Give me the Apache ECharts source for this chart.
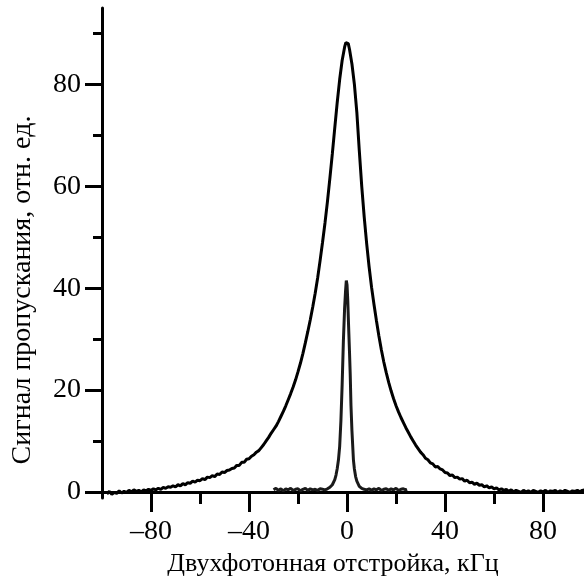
<!DOCTYPE html>
<html>
<head>
<meta charset="utf-8">
<script src="https://cdn.jsdelivr.net/npm/echarts@6/dist/echarts.min.js"></script>
<style>
html,body{margin:0;padding:0;background:#fff;}
#chart{width:584px;height:577px;}
</style>
</head>
<body>
<div id="chart"></div>
<script>
// Broad transmission resonance: detuning (kHz) and signal (arb. units)
var broadX = [
 -98,-97,-96,-95,-94,-93,-92,-91,-90,-89,-88,-87,-86,-85,-84,-83,-82,-81,-80,-79,
 -78,-77,-76,-75,-74,-73,-72,-71,-70,-69,-68,-67,-66,-65,-64,-63,-62,-61,-60,-59,
 -58,-57,-56,-55,-54,-53,-52,-51,-50,-49,-48,-47,-46,-45,-44,-43,-42,-41,-40,-39,
 -38,-37,-36,-35,-34,-33,-32,-31,-30,-29,-28,-27,-26,-25,-24,-23,-22,-21,-20,-19,
 -18,-17,-16,-15,-14,-13,-12,-11,-10,-9,-8,-7,-6,-5,-4,-3,-2,-1,-0.5,0,
 0.5,1,2,3,4,5,6,7,8,9,10,11,12,13,14,15,16,17,18,19,
 20,21,22,23,24,25,26,27,28,29,30,31,32,33,34,35,36,37,38,39,
 40,41,42,43,44,45,46,47,48,49,50,51,52,53,54,55,56,57,58,59,
 60,61,62,63,64,65,66,67,68,69,70,71,72,73,74,75,76,77,78,79,
 80,81,82,83,84,85,86,87,88,89,90,91,92,93,94,95,96,97
];
var broadY = [
 -0.4,0.1,-0.5,-0.1,-0.3,0.2,-0.2,0.1,-0.1,0.3,0.0,0.4,0.1,0.3,0.0,0.4,0.2,0.5,0.3,0.6,
 0.4,0.7,0.5,0.9,0.7,1.0,0.9,1.2,1.0,1.4,1.2,1.6,1.4,1.8,1.7,2.1,1.9,2.3,2.2,2.6,
 2.4,2.9,2.8,3.2,3.0,3.5,3.4,3.9,3.8,4.2,4.3,4.6,4.7,5.2,5.2,5.8,5.8,6.4,6.5,7.0,
 7.3,7.8,8.1,8.7,9.3,10.0,10.7,11.5,12.2,12.9,13.8,14.8,15.8,16.9,18.1,19.3,20.6,22.0,23.6,25.3,
 27.2,29.3,31.5,33.8,36.3,39.0,42.0,45.4,49.0,52.8,57.0,61.6,66.4,71.5,76.5,81.0,84.7,87.3,88.2,88.5,
 88.0,86.9,84.0,80.0,74.5,67.0,60.0,54.0,48.8,44.2,40.2,36.8,33.6,30.6,27.9,25.5,23.4,21.5,19.8,18.3,
 16.9,15.7,14.6,13.6,12.6,11.7,10.8,10.0,9.2,8.5,7.8,7.3,6.6,6.3,5.7,5.5,4.9,5.0,4.5,4.3,
 3.8,3.7,3.2,3.3,2.8,2.9,2.5,2.6,2.1,2.3,1.8,1.9,1.5,1.7,1.3,1.4,1.0,1.2,0.8,1.0,
 0.6,0.8,0.4,0.6,0.3,0.5,0.1,0.4,0.0,0.3,0.1,-0.1,0.3,0.0,0.2,-0.1,0.3,0.1,-0.1,0.2,
 0.0,0.3,-0.1,0.2,0.1,0.3,-0.1,0.2,0.0,0.3,0.1,-0.1,0.2,0.1,0.3,0.0,0.3,0.4
];
// Narrow resonance
var narrowX = [
 -30,-29,-28,-27,-26,-25,-24,-23,-22,-21,-20,-19,-18,-17,-16,-15,-14,-13,-12,-11,
 -10,-9,-8,-7,-6,-5,-4.5,-4,-3.5,-3,-2.5,-2,-1.5,-1,-0.6,-0.3,0,0.3,0.6,1,
 1.3,1.6,2,2.6,3,3.5,4,5,6,7,8,9,10,11,12,13,14,15,16,17,
 18,19,20,21,22,23,24,24.5
];
var narrowY = [
 0.4,0.7,0.3,0.6,0.2,0.6,0.4,0.7,0.3,0.5,0.6,0.2,0.5,0.7,0.3,0.6,0.4,0.5,0.3,0.6,
 0.5,0.4,0.6,0.9,1.4,2.4,3.3,4.6,6.3,9.0,14.0,21.0,29.5,36.0,39.5,41.5,40.6,37.5,33.0,27.5,
 23.0,17.0,12.0,6.3,4.5,3.0,2.1,1.1,0.7,0.5,0.4,0.6,0.3,0.6,0.4,0.7,0.3,0.5,0.6,0.3,
 0.6,0.4,0.7,0.3,0.5,0.6,0.4,0.5
];
var xMajor = [-80,-40,0,40,80];
var xMinor = [-60,-20,20,60];
var yMajor = [0,20,40,60,80];
var yMinor = [10,30,50,70,90];
var xTitle = 'Двухфотонная отстройка, кГц';
var yTitle = 'Сигнал пропускания, отн. ед.';

function pairs(xs, ys){ return xs.map(function(x,i){ return [x, ys[i]]; }); }

var FONT = 'Liberation Serif';
var black = '#000';
var chart = echarts.init(document.getElementById('chart'), null, {renderer:'canvas'});
chart.setOption({
  animation:false,
  backgroundColor:'#fff',
  grid:{left:102, right:0, top:8, bottom:79, containLabel:false, outerBoundsMode:'none'},
  xAxis:[{
    type:'value', min:-100, max:96.7, position:'bottom',
    axisLine:{onZero:true, lineStyle:{color:black, width:3}},
    axisTick:{customValues:xMajor, length:20, lineStyle:{color:black, width:3}},
    axisLabel:{customValues:xMajor, margin:20, fontSize:28, fontFamily:FONT, color:black,
      formatter:function(v){ return v<0 ? '\u2013'+Math.abs(v) : String(v); }},
    splitLine:{show:false},
    name:xTitle, nameLocation:'middle', nameGap:50,
    nameTextStyle:{fontSize:26, fontFamily:FONT, color:black, padding:[0,20,0,0]}
  },{
    type:'value', min:-100, max:96.7, position:'bottom',
    axisLine:{show:false, onZero:true},
    axisTick:{customValues:xMinor, length:12, lineStyle:{color:black, width:3}},
    axisLabel:{show:false},
    splitLine:{show:false}
  }],
  yAxis:[{
    type:'value', min:-1.2, max:95, position:'left',
    axisLine:{onZero:false, lineStyle:{color:black, width:3}},
    axisTick:{customValues:yMajor, length:17, lineStyle:{color:black, width:3}},
    axisLabel:{customValues:yMajor, margin:21, fontSize:28, fontFamily:FONT, color:black},
    splitLine:{show:false},
    name:yTitle, nameLocation:'middle', nameGap:65,
    nameTextStyle:{fontSize:28, fontFamily:FONT, color:black, padding:[0,74,0,0]}
  },{
    type:'value', min:-1.2, max:95, position:'left',
    axisLine:{show:false, onZero:false},
    axisTick:{customValues:yMinor, length:9, lineStyle:{color:black, width:3}},
    axisLabel:{show:false},
    splitLine:{show:false}
  }],
  series:[{
    type:'line', data:pairs(broadX, broadY), showSymbol:false, symbol:'none',
    lineStyle:{color:black, width:3}, z:2
  },{
    type:'line', data:pairs(narrowX, narrowY), showSymbol:false, symbol:'none',
    lineStyle:{color:'#1a1a1a', width:3}, z:3
  }]
});
</script>
</body>
</html>
